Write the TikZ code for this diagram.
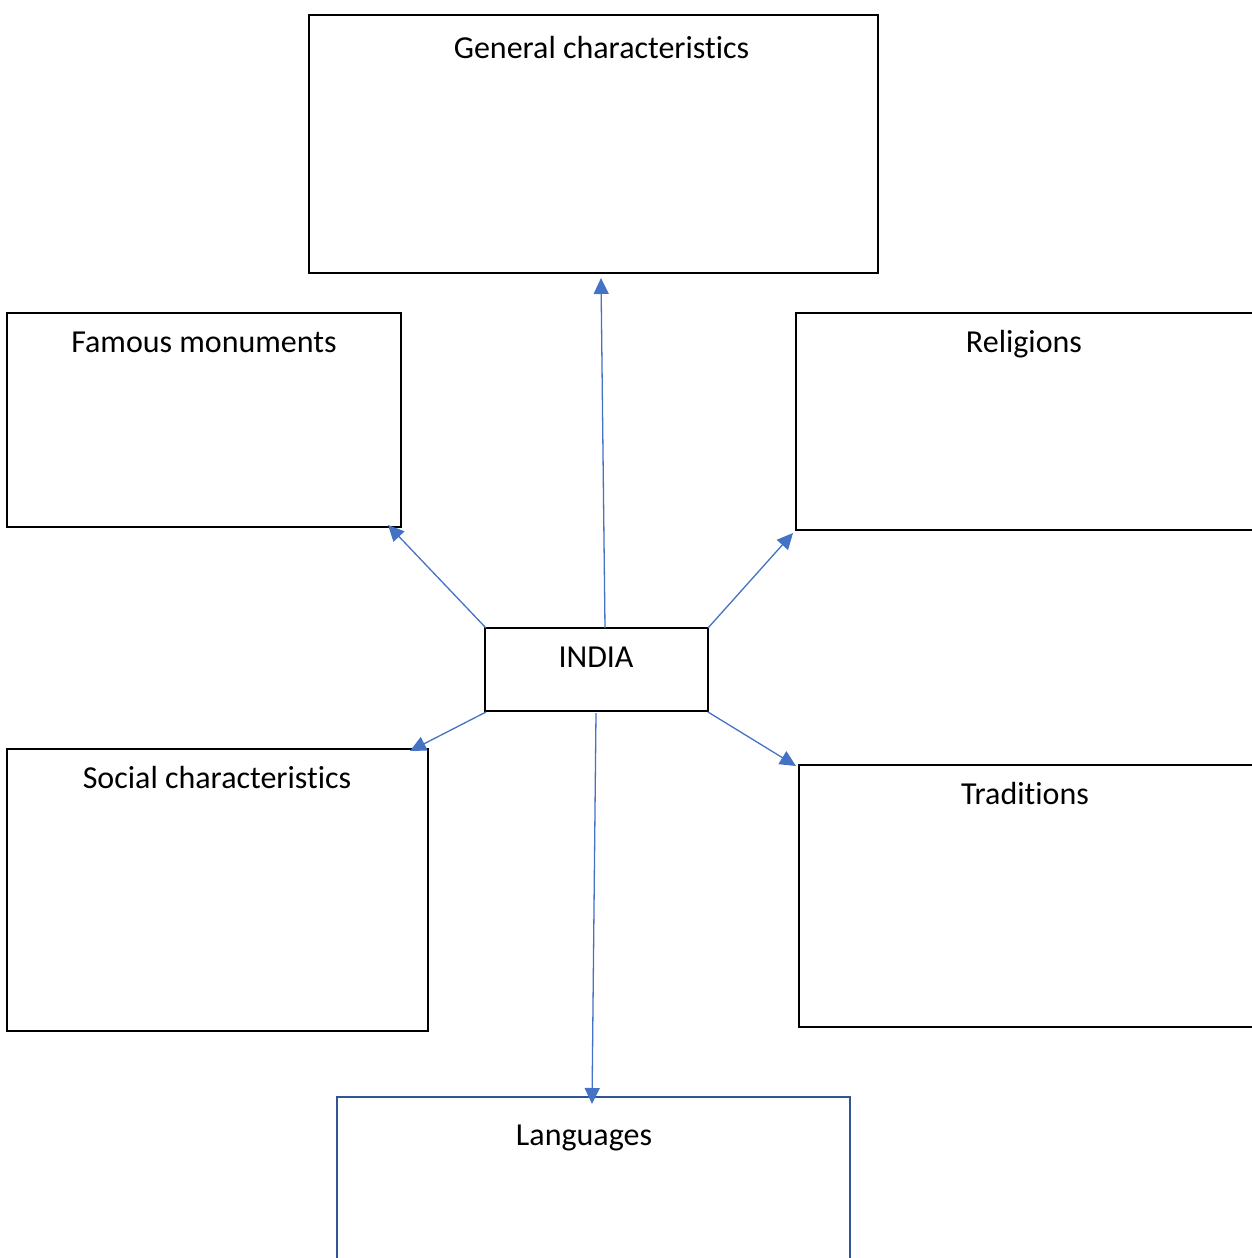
\documentclass[tikz,border=0pt]{standalone}
\usepackage{fontspec}
\setmainfont{Carlito}[Ligatures={NoCommon}]
\usetikzlibrary{arrows.meta}
\definecolor{arrowblue}{HTML}{4472C4}
\definecolor{langblue}{HTML}{2F5597}
\begin{document}
\begin{tikzpicture}[x=1pt,y=-1pt,
  box/.style={draw=black,line width=2.3pt,fill=none},
  lbl/.style={anchor=base,inner sep=0pt,font=\fontsize{32}{38}\selectfont},
  conn/.style={draw=arrowblue,line width=1.3pt,-{Triangle[length=16pt,width=15pt]}}]
\useasboundingbox (0,0) rectangle (1252,1258);
% boxes
\draw[box,line width=2.8pt] (309,15) rectangle (878,273);
\node (gen) at (593.5,144) {};
\draw[box] (7,313) rectangle (401,527);
\node (fam) at (204,420) {};
\draw[box] (796,313) rectangle (1253,530);
\node (rel) at (1024,421) {};
\draw[box] (485,628) rectangle (708,711);
\node (india) at (596.5,669.5) {};
\draw[box] (7,749) rectangle (428,1031);
\node (soc) at (217.5,890) {};
\draw[box] (799,765) rectangle (1253,1027);
\node (tra) at (1025,896) {};
\draw[box,draw=langblue,line width=2.8pt] (337,1097) rectangle (850,1262);
\node (lang) at (593.5,1180) {};
% labels
\node[lbl] (tgen) at (601.5,58) {General characteristics};
\node[lbl] (tfam) at (204,352) {Famous monuments};
\node[lbl] (trel) at (1024,352) {Religions};
\node[lbl] (tindia) at (596,667) {INDIA};
\node[lbl] (tsoc) at (217,788) {Social characteristics};
\node[lbl] (ttra) at (1025,804) {Traditions};
\node[lbl] (tlang) at (584,1145) {Languages};
% connector endpoints
\coordinate (s1) at (605,628); \coordinate (e1) at (601,278);
\coordinate (s2) at (486,628); \coordinate (e2) at (388,525);
\coordinate (s3) at (708,628); \coordinate (e3) at (793,533);
\coordinate (s4) at (486,712); \coordinate (e4) at (410,751);
\coordinate (s5) at (708,712); \coordinate (e5) at (796,766);
\coordinate (s6) at (596,713); \coordinate (e6) at (592,1104);
\draw[conn] (s1) -- (e1);
\draw[conn] (s2) -- (e2);
\draw[conn] (s3) -- (e3);
\draw[conn] (s4) -- (e4);
\draw[conn] (s5) -- (e5);
\draw[conn] (s6) -- (e6);
\end{tikzpicture}
\end{document}
